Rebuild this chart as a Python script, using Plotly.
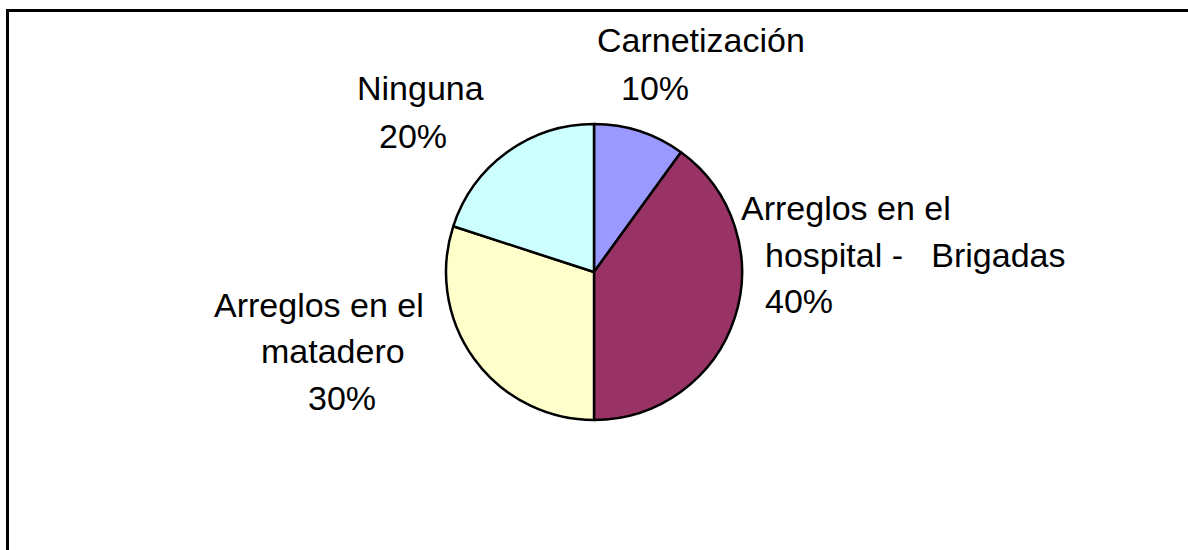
import plotly.graph_objects as go

W, H = 1188, 550

# slices, clockwise from 12 o'clock
labels = ["Carnetización", "Arreglos en el hospital - Brigadas", "Arreglos en el matadero", "Ninguna"]
values = [10, 40, 30, 20]
colors = ["#9999FF", "#993366", "#FFFFCC", "#CCFFFF"]

# how each label is broken into lines (as in the original chart)
label_lines = [
    ["Carnetización"],
    ["Arreglos en el", "hospital -\u00a0\u00a0\u00a0Brigadas"],
    ["Arreglos en el", "matadero"],
    ["Ninguna"],
]

# left x / baseline y in pixels for each text line (last one is the percent)
line_pos = [
    [(595, 52), (619, 100)],
    [(739, 220), (763, 267), (763, 313)],
    [(212, 317), (259, 363), (306, 410)],
    [(355, 100), (377, 148)],
]

FONT = "Liberation Sans, Arial, sans-serif"
FSIZE = 34

cx, cy, r = 594, 272, 148

fig = go.Figure(go.Pie(
    labels=labels,
    values=values,
    sort=False,
    direction="clockwise",
    rotation=0,
    marker=dict(colors=colors, line=dict(color="black", width=2.5)),
    textinfo="none",
    hoverinfo="label+percent",
    domain=dict(x=[(cx - r) / W, (cx + r) / W], y=[1 - (cy + r) / H, 1 - (cy - r) / H]),
    showlegend=False,
))

total = sum(values)
annotations = []
for lines, v, pos in zip(label_lines, values, line_pos):
    texts = lines + [f"{round(100 * v / total)}%"]
    for t, (px, py) in zip(texts, pos):
        annotations.append(dict(
            x=px / W, y=1 - (py - 12) / H, xref="paper", yref="paper",
            xanchor="left", yanchor="middle", showarrow=False,
            text=t, font=dict(family=FONT, size=FSIZE, color="black"),
        ))

# frame edges visible in the original (left and top)
shapes = [
    dict(type="line", xref="paper", yref="paper", x0=7.5 / W, x1=7.5 / W, y0=0, y1=1 - 9 / H,
         line=dict(color="black", width=3)),
    dict(type="line", xref="paper", yref="paper", x0=6 / W, x1=1, y0=1 - 10.5 / H, y1=1 - 10.5 / H,
         line=dict(color="black", width=3)),
]

fig.update_layout(
    width=W, height=H,
    margin=dict(l=0, r=0, t=0, b=0),
    paper_bgcolor="white",
    plot_bgcolor="white",
    annotations=annotations,
    shapes=shapes,
)

# drop the browser's default body margin so the figure sits at the page corner
fig.write_html("out.html", config={"displayModeBar": False},
               post_script="document.body.style.margin='0';")
